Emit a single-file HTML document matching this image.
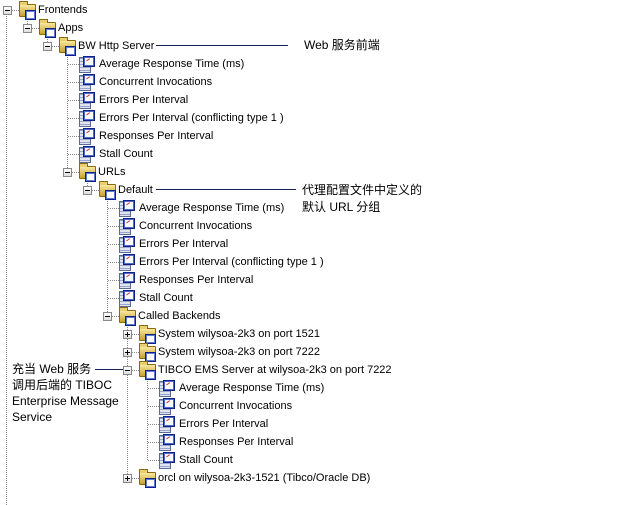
<!DOCTYPE html>
<html><head><meta charset="utf-8"><style>
body{margin:0;background:#fff;}
#c{position:relative;width:621px;height:505px;overflow:hidden;background:#fff;font-family:"Liberation Sans","Noto Sans CJK SC",sans-serif;font-size:11px;color:#000;}
.v{position:absolute;width:0;border-left:1px dotted #888;}
.h{position:absolute;height:0;border-top:1px dotted #888;}
.e{position:absolute;width:7px;height:7px;border:1px solid #888;background:linear-gradient(#fff,#ddd);}
.e:before{content:"";position:absolute;left:1px;top:3px;width:5px;height:1px;background:#000;}
.e.p:after{content:"";position:absolute;left:3px;top:1px;width:1px;height:5px;background:#000;}
.f{position:absolute;width:15px;height:11px;background:linear-gradient(#f8e8a0,#c8a030);border:1px solid #8a6a10;border-radius:1px;}
.f:before{content:"";position:absolute;left:-1px;top:-4px;width:7px;height:3px;background:#e8d070;border:1px solid #8a6a10;border-bottom:none;}
.fm{position:absolute;width:9px;height:8px;background:#fff;border:1px solid #102080;box-shadow:inset 0 0 0 1px #5a7ad8;}
.mg{position:absolute;width:10px;height:14px;background:repeating-linear-gradient(#9aa6c8 0 1px,#dfe4f0 1px 3px);border:1px solid #5a6a98;}
.mc{position:absolute;width:10px;height:9px;background:#fff;border:1px solid #102080;box-shadow:inset 0 0 0 1px #4a6ad0;}
.mc:after{content:"";position:absolute;left:3px;top:2px;width:4px;height:3px;border-top:1px solid #d03030;transform:rotate(-35deg);}
.t{position:absolute;white-space:nowrap;line-height:14px;}
.a{position:absolute;height:0;border-top:1px solid #1a2458;}
.n{position:absolute;white-space:nowrap;font-size:12px;line-height:16px;}
</style></head><body><div id="c">
<!-- vertical lines -->
<div class="v" style="left:6px;top:14px;height:491px"></div>
<div class="v" style="left:27px;top:16px;height:12px"></div>
<div class="v" style="left:47px;top:34px;height:12px"></div>
<div class="v" style="left:67px;top:52px;height:120px"></div>
<div class="v" style="left:87px;top:178px;height:12px"></div>
<div class="v" style="left:107px;top:196px;height:120px"></div>
<div class="v" style="left:127px;top:322px;height:156px"></div>
<div class="v" style="left:147px;top:376px;height:84px"></div>

<!-- Frontends -->
<div class="e" style="left:3px;top:6px"></div><div class="h" style="left:12px;top:10px;width:7px"></div>
<div class="f" style="left:19px;top:4px"></div><div class="fm" style="left:25px;top:10px"></div><div class="t" style="left:38px;top:3px">Frontends</div>
<!-- Apps -->
<div class="e" style="left:23px;top:24px"></div><div class="h" style="left:32px;top:28px;width:7px"></div>
<div class="f" style="left:39px;top:22px"></div><div class="fm" style="left:45px;top:28px"></div><div class="t" style="left:58px;top:21px">Apps</div>
<!-- BW -->
<div class="e" style="left:43px;top:42px"></div><div class="h" style="left:52px;top:46px;width:7px"></div>
<div class="f" style="left:59px;top:40px"></div><div class="fm" style="left:65px;top:46px"></div><div class="t" style="left:78px;top:39px">BW Http Server</div>
<div class="a" style="left:156px;top:45px;width:132px"></div><div class="n" style="left:304px;top:37px">Web 服务前端</div>

<!-- BW metrics -->
<div class="h" style="left:68px;top:64px;width:11px"></div><div class="mg" style="left:79px;top:57px"></div><div class="mc" style="left:83px;top:56px"></div><div class="t" style="left:99px;top:57px">Average Response Time (ms)</div>
<div class="h" style="left:68px;top:82px;width:11px"></div><div class="mg" style="left:79px;top:75px"></div><div class="mc" style="left:83px;top:74px"></div><div class="t" style="left:99px;top:75px">Concurrent Invocations</div>
<div class="h" style="left:68px;top:100px;width:11px"></div><div class="mg" style="left:79px;top:93px"></div><div class="mc" style="left:83px;top:92px"></div><div class="t" style="left:99px;top:93px">Errors Per Interval</div>
<div class="h" style="left:68px;top:118px;width:11px"></div><div class="mg" style="left:79px;top:111px"></div><div class="mc" style="left:83px;top:110px"></div><div class="t" style="left:99px;top:111px">Errors Per Interval (conflicting type 1 )</div>
<div class="h" style="left:68px;top:136px;width:11px"></div><div class="mg" style="left:79px;top:129px"></div><div class="mc" style="left:83px;top:128px"></div><div class="t" style="left:99px;top:129px">Responses Per Interval</div>
<div class="h" style="left:68px;top:154px;width:11px"></div><div class="mg" style="left:79px;top:147px"></div><div class="mc" style="left:83px;top:146px"></div><div class="t" style="left:99px;top:147px">Stall Count</div>
<!-- URLs -->
<div class="e" style="left:63px;top:168px"></div><div class="h" style="left:72px;top:172px;width:7px"></div>
<div class="f" style="left:79px;top:166px"></div><div class="fm" style="left:85px;top:172px"></div><div class="t" style="left:98px;top:165px">URLs</div>
<!-- Default -->
<div class="e" style="left:83px;top:186px"></div><div class="h" style="left:92px;top:190px;width:7px"></div>
<div class="f" style="left:99px;top:184px"></div><div class="fm" style="left:105px;top:190px"></div><div class="t" style="left:118px;top:183px">Default</div>
<div class="a" style="left:156px;top:189px;width:140px"></div>
<div class="n" style="left:302px;top:182px">代理配置文件中定义的</div><div class="n" style="left:302px;top:199px">默认 URL 分组</div>
<!-- Default metrics -->
<div class="h" style="left:108px;top:208px;width:11px"></div><div class="mg" style="left:119px;top:201px"></div><div class="mc" style="left:123px;top:200px"></div><div class="t" style="left:139px;top:201px">Average Response Time (ms)</div>
<div class="h" style="left:108px;top:226px;width:11px"></div><div class="mg" style="left:119px;top:219px"></div><div class="mc" style="left:123px;top:218px"></div><div class="t" style="left:139px;top:219px">Concurrent Invocations</div>
<div class="h" style="left:108px;top:244px;width:11px"></div><div class="mg" style="left:119px;top:237px"></div><div class="mc" style="left:123px;top:236px"></div><div class="t" style="left:139px;top:237px">Errors Per Interval</div>
<div class="h" style="left:108px;top:262px;width:11px"></div><div class="mg" style="left:119px;top:255px"></div><div class="mc" style="left:123px;top:254px"></div><div class="t" style="left:139px;top:255px">Errors Per Interval (conflicting type 1 )</div>
<div class="h" style="left:108px;top:280px;width:11px"></div><div class="mg" style="left:119px;top:273px"></div><div class="mc" style="left:123px;top:272px"></div><div class="t" style="left:139px;top:273px">Responses Per Interval</div>
<div class="h" style="left:108px;top:298px;width:11px"></div><div class="mg" style="left:119px;top:291px"></div><div class="mc" style="left:123px;top:290px"></div><div class="t" style="left:139px;top:291px">Stall Count</div>
<!-- Called Backends -->
<div class="e" style="left:103px;top:312px"></div><div class="h" style="left:112px;top:316px;width:7px"></div>
<div class="f" style="left:119px;top:310px"></div><div class="fm" style="left:125px;top:316px"></div><div class="t" style="left:138px;top:309px">Called Backends</div>
<!-- Systems -->
<div class="e p" style="left:123px;top:330px"></div><div class="h" style="left:132px;top:334px;width:7px"></div>
<div class="f" style="left:139px;top:328px"></div><div class="fm" style="left:145px;top:334px"></div><div class="t" style="left:158px;top:327px">System wilysoa-2k3 on port 1521</div>
<div class="e p" style="left:123px;top:348px"></div><div class="h" style="left:132px;top:352px;width:7px"></div>
<div class="f" style="left:139px;top:346px"></div><div class="fm" style="left:145px;top:352px"></div><div class="t" style="left:158px;top:345px">System wilysoa-2k3 on port 7222</div>
<!-- TIBCO -->
<div class="e" style="left:123px;top:366px"></div><div class="h" style="left:132px;top:370px;width:7px"></div>
<div class="f" style="left:139px;top:364px"></div><div class="fm" style="left:145px;top:370px"></div><div class="t" style="left:158px;top:363px">TIBCO EMS Server at wilysoa-2k3 on port 7222</div>
<div class="a" style="left:95px;top:369px;width:28px"></div>
<div class="n" style="left:12px;top:361px">充当 Web 服务<br>调用后端的 TIBOC<br>Enterprise Message<br>Service</div>
<!-- TIBCO metrics -->
<div class="h" style="left:148px;top:388px;width:11px"></div><div class="mg" style="left:159px;top:381px"></div><div class="mc" style="left:163px;top:380px"></div><div class="t" style="left:179px;top:381px">Average Response Time (ms)</div>
<div class="h" style="left:148px;top:406px;width:11px"></div><div class="mg" style="left:159px;top:399px"></div><div class="mc" style="left:163px;top:398px"></div><div class="t" style="left:179px;top:399px">Concurrent Invocations</div>
<div class="h" style="left:148px;top:424px;width:11px"></div><div class="mg" style="left:159px;top:417px"></div><div class="mc" style="left:163px;top:416px"></div><div class="t" style="left:179px;top:417px">Errors Per Interval</div>
<div class="h" style="left:148px;top:442px;width:11px"></div><div class="mg" style="left:159px;top:435px"></div><div class="mc" style="left:163px;top:434px"></div><div class="t" style="left:179px;top:435px">Responses Per Interval</div>
<div class="h" style="left:148px;top:460px;width:11px"></div><div class="mg" style="left:159px;top:453px"></div><div class="mc" style="left:163px;top:452px"></div><div class="t" style="left:179px;top:453px">Stall Count</div>
<!-- orcl -->
<div class="e p" style="left:123px;top:474px"></div><div class="h" style="left:132px;top:478px;width:7px"></div>
<div class="f" style="left:139px;top:472px"></div><div class="fm" style="left:145px;top:478px"></div><div class="t" style="left:158px;top:471px">orcl on wilysoa-2k3-1521 (Tibco/Oracle DB)</div>
</div></body></html>
